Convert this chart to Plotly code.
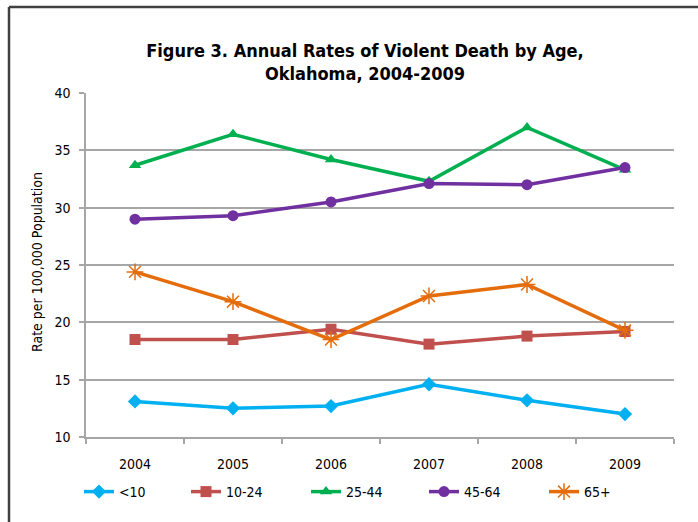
import plotly.graph_objects as go

years = ["2004", "2005", "2006", "2007", "2008", "2009"]
under10 = [13.1, 12.5, 12.7, 14.6, 13.2, 12.0]
age10_24 = [18.5, 18.5, 19.4, 18.1, 18.8, 19.2]
age25_44 = [33.7, 36.4, 34.2, 32.3, 37.0, 33.3]
age45_64 = [29.0, 29.3, 30.5, 32.1, 32.0, 33.5]
age65plus = [24.4, 21.8, 18.5, 22.3, 23.3, 19.3]

series_names = ["<10", "10-24", "25-44", "45-64", "65+"]
series_values = [under10, age10_24, age25_44, age45_64, age65plus]
colors = ["#00B0F0", "#C0504D", "#00B050", "#7030A0", "#E46C0A"]
symbols = ["diamond", "square", "triangle-up", "circle", "asterisk-open"]
sizes = [11, 11, 11, 11, 14]
legend_text_x = [118, 225, 345, 463, 583]  # pixel x where each legend label starts

FONT = "Liberation Sans Narrow, Arial Narrow, DejaVu Sans Condensed, sans-serif"

W, H = 698, 522
L, R, T, B = 86, 24, 93, 85
pw, ph = W - L - R, H - T - B

def px_x(px):
    return (px - L) / pw

def px_y(py):
    return (H - B - py) / ph

fig = go.Figure()
legend_layouts = {}
for i, (name, vals, c, s, sz) in enumerate(zip(series_names, series_values, colors, symbols, sizes)):
    marker = dict(symbol=s, size=sz, color=c)
    if s == "asterisk-open":
        marker["line"] = dict(color=c, width=1.5)
    lname = "legend" if i == 0 else f"legend{i + 1}"
    fig.add_trace(go.Scatter(
        x=years, y=vals, name=name, mode="lines+markers",
        line=dict(color=c, width=3.5), marker=marker, legend=lname,
    ))
    legend_layouts[lname] = dict(
        orientation="h", xref="container", yref="container",
        x=(legend_text_x[i] - 39) / W, xanchor="left",
        y=1 - 492 / H, yanchor="middle",
        font=dict(family=FONT, size=14, color="#000000"),
        bgcolor="rgba(0,0,0,0)",
    )

border = "#404040"
fig.update_layout(
    width=W, height=H,
    margin=dict(l=L, r=R, t=T, b=B, autoexpand=False),
    paper_bgcolor="white", plot_bgcolor="white",
    font=dict(family=FONT, size=14, color="#000000"),
    title=dict(
        text="<b>Figure 3. Annual Rates of Violent Death by Age,<br>Oklahoma, 2004-2009</b>",
        x=365 / W, xanchor="center", xref="container",
        y=1 - 57 / H, yanchor="middle", yref="container",
        font=dict(family=FONT, size=18, color="#000000"),
    ),
    showlegend=True,
    xaxis=dict(
        type="category", showgrid=False, showline=True, linecolor="#A6A6A6", linewidth=1.5,
        ticks="outside", tickson="boundaries", ticklen=5, tickcolor="#A6A6A6", tickwidth=1.5,
        ticklabelstandoff=13, tickfont=dict(family=FONT, size=14), range=[-0.5, 5.5],
        automargin=False,
    ),
    yaxis=dict(
        range=[10, 40], dtick=5, showgrid=True, gridcolor="#A6A6A6", gridwidth=1.5,
        showline=True, linecolor="#A6A6A6", linewidth=1.5,
        ticks="outside", ticklen=5, tickcolor="#A6A6A6", tickwidth=1.5,
        ticklabelstandoff=6, tickfont=dict(family=FONT, size=14), zeroline=False,
        automargin=False,
    ),
    annotations=[dict(
        text="Rate per 100,000 Population", textangle=-90,
        x=px_x(37), y=px_y(262), xref="paper", yref="paper",
        xanchor="center", yanchor="middle", showarrow=False,
        font=dict(family=FONT, size=14, color="#000000"),
    )],
    shapes=[
        dict(type="line", xref="paper", yref="paper", x0=px_x(9), x1=px_x(9),
             y0=px_y(7), y1=px_y(540), line=dict(color=border, width=2.5)),
        dict(type="line", xref="paper", yref="paper", x0=px_x(9), x1=px_x(710),
             y0=px_y(7), y1=px_y(7), line=dict(color=border, width=2.5)),
    ],
    **legend_layouts,
)

fig.write_html("out.html", config={"displayModeBar": False},
               post_script="document.body.style.margin='0';")
